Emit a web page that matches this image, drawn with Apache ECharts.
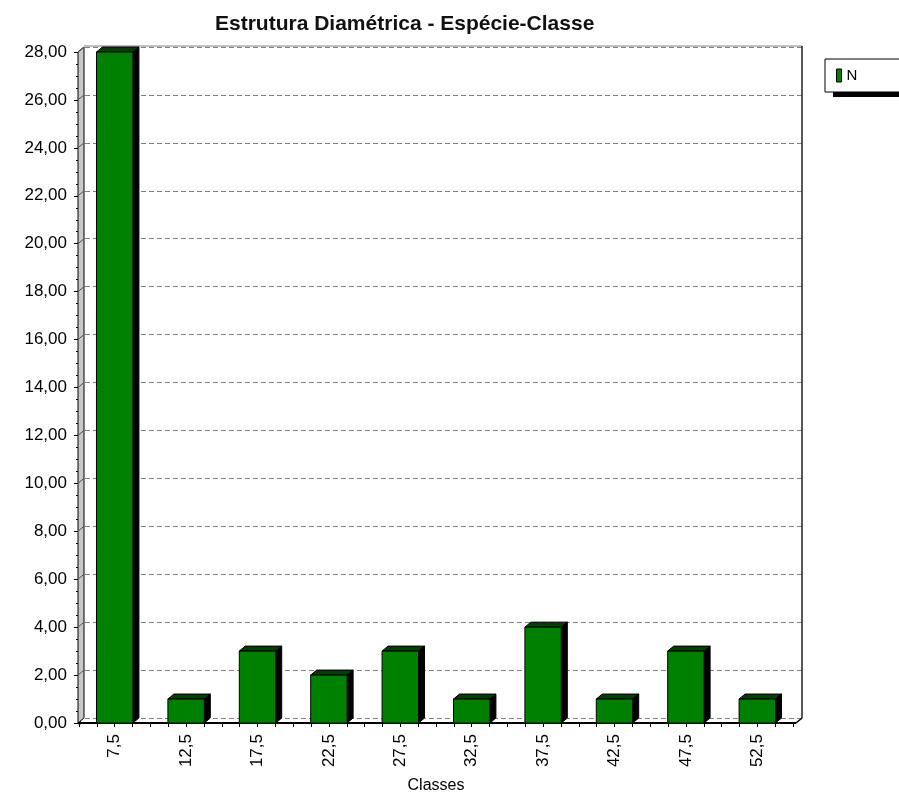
<!DOCTYPE html>
<html>
<head>
<meta charset="utf-8">
<script src="https://cdn.jsdelivr.net/npm/echarts@6/dist/echarts.min.js"></script>
<style>
  html, body { margin: 0; padding: 0; background: #fff; }
  #chart { width: 899px; height: 795px; }
</style>
</head>
<body>
<div id="chart"></div>
<script>
// Diameter classes (cm) and number of trees per class
const classes = ['7,5', '12,5', '17,5', '22,5', '27,5', '32,5', '37,5', '42,5', '47,5', '52,5'];
const counts = [28, 1, 3, 2, 3, 1, 4, 1, 3, 1];

// Value axis range and step
const yMin = 0;
const yMax = 28;
const yStep = 2;

const FONT = 'Liberation Sans, Arial, sans-serif';
// 3D depth offset of the back plane
const DX = 6;
const DY = 5;

const yTicks = [];
for (let v = yMin; v <= yMax; v += yStep) yTicks.push(v);

const fmt = v => v.toFixed(2).replace('.', ',');

// Left wall, floor edge and back-plane border
function renderFrame(params, api) {
  const cs = params.coordSys;
  const x0 = cs.x - 1;
  const R = cs.x + cs.width + 3;
  const yb = api.coord([0, yMin])[1];
  const yt = api.coord([0, yMax])[1];
  const children = [
    { type: 'polygon', shape: { points: [[x0, yb], [x0, yt], [x0 + DX, yt - DY], [x0 + DX, yb - DY]] },
      style: { fill: '#c8c8c8', stroke: '#000', lineWidth: 1 } }
  ];
  yTicks.forEach(v => {
    const y = api.coord([0, v])[1];
    children.push({ type: 'line', shape: { x1: x0, y1: y, x2: x0 + DX, y2: y - DY },
      style: { stroke: '#505050', lineWidth: 1 } });
  });
  children.push(
    { type: 'line', shape: { x1: x0 + DX, y1: yt - DY - 1, x2: R + DX, y2: yt - DY - 1 }, style: { stroke: '#808080', lineWidth: 1 } },
    { type: 'line', shape: { x1: R + DX, y1: yt - DY - 1, x2: R + DX, y2: yb - DY }, style: { stroke: '#222', lineWidth: 1.5 } },
    { type: 'line', shape: { x1: x0, y1: yb, x2: R, y2: yb }, style: { stroke: '#000', lineWidth: 2 } },
    { type: 'line', shape: { x1: R, y1: yb, x2: R + DX, y2: yb - DY }, style: { stroke: '#000', lineWidth: 1.5 } }
  );
  return { type: 'group', children };
}

// 3D bar: front face, top face and dark side
function renderBar(params, api) {
  const i = api.value(0);
  const v = api.value(1);
  const top = api.coord([i, v]);
  const base = api.coord([i, 0]);
  const w = api.size([1, 0])[0] * 0.51;
  const xl = top[0] - w / 2, xr = top[0] + w / 2, yt = top[1], yb = base[1];
  return {
    type: 'group',
    children: [
      { type: 'polygon', shape: { points: [[xr, yt], [xr + DX, yt - DY], [xr + DX, yb - DY], [xr, yb]] },
        style: { fill: '#000', stroke: '#000', lineWidth: 1 } },
      { type: 'polygon', shape: { points: [[xl, yt], [xl + DX, yt - DY], [xr + DX, yt - DY], [xr, yt]] },
        style: { fill: '#004000', stroke: '#000', lineWidth: 1 } },
      { type: 'rect', shape: { x: xl, y: yt, width: w, height: yb - yt },
        style: { fill: api.visual('color'), stroke: '#000', lineWidth: 1 } }
    ]
  };
}

const chart = echarts.init(document.getElementById('chart'));
chart.setOption({
  animation: false,
  backgroundColor: '#fff',
  title: {
    text: 'Estrutura Diamétrica - Espécie-Classe',
    left: 215, top: 14, padding: 0,
    textStyle: { fontSize: 21, fontWeight: 'bold', color: '#111', fontFamily: FONT }
  },
  legend: {
    data: ['N'],
    left: 825, top: 59, z: 5,
    icon: 'rect', itemWidth: 5, itemHeight: 13,
    padding: [9, 60, 9, 11],
    backgroundColor: '#fff', borderColor: '#000', borderWidth: 1, borderRadius: 0,
    itemStyle: { borderColor: '#000', borderWidth: 1 },
    textStyle: { fontSize: 15, color: '#000', fontFamily: FONT }
  },
  // drop shadow under the legend box
  graphic: [
    { type: 'rect', left: 833, top: 64, z: 1, shape: { width: 90, height: 33 }, style: { fill: '#000' } }
  ],
  grid: [
    { left: 79, top: 52, width: 714, height: 671, outerBoundsMode: 'none' },
    { left: 85, top: 47, width: 717, height: 671, outerBoundsMode: 'none' }
  ],
  xAxis: [
    {
      type: 'category', gridIndex: 0, data: classes,
      axisLine: { lineStyle: { color: '#000', width: 2 } },
      axisTick: { alignWithLabel: true, length: 7, lineStyle: { color: '#000' } },
      axisLabel: { rotate: 90, fontSize: 17, color: '#000', margin: 11, fontFamily: FONT },
      name: 'Classes', nameLocation: 'middle', nameGap: 55,
      nameTextStyle: { fontSize: 16, color: '#000', fontFamily: FONT },
      splitLine: { show: false }
    },
    {
      type: 'value', gridIndex: 0, position: 'bottom', min: 0, max: 40, interval: 1,
      axisLine: { show: false },
      axisTick: { show: true, length: 4, lineStyle: { color: '#000' } },
      axisLabel: { show: false }, splitLine: { show: false }
    },
    { type: 'value', gridIndex: 1, min: 0, max: 1, show: false }
  ],
  yAxis: [
    {
      type: 'value', gridIndex: 0, min: yMin, max: yMax, interval: yStep, offset: 2,
      axisLine: { show: true, lineStyle: { color: '#000', width: 3 } },
      axisTick: { show: true, length: 5, lineStyle: { color: '#000' } },
      minorTick: { show: true, splitNumber: 4, length: 3, lineStyle: { color: '#000' } },
      axisLabel: { formatter: fmt, fontSize: 17, color: '#000', margin: 10, fontFamily: FONT },
      splitLine: { show: false }
    },
    {
      type: 'value', gridIndex: 1, min: yMin, max: yMax, interval: yStep,
      axisLine: { show: false }, axisTick: { show: false }, axisLabel: { show: false },
      splitLine: { show: true, lineStyle: { color: '#808080', type: [5, 3], width: 1 } }
    }
  ],
  series: [
    {
      name: 'frame', type: 'custom', xAxisIndex: 0, yAxisIndex: 0, silent: true, z: 1,
      renderItem: renderFrame, data: [[0, 0]]
    },
    {
      name: 'N', type: 'custom', xAxisIndex: 0, yAxisIndex: 0, z: 2,
      itemStyle: { color: '#008000' },
      renderItem: renderBar,
      data: counts.map((v, i) => [i, v])
    }
  ]
});
</script>
</body>
</html>
